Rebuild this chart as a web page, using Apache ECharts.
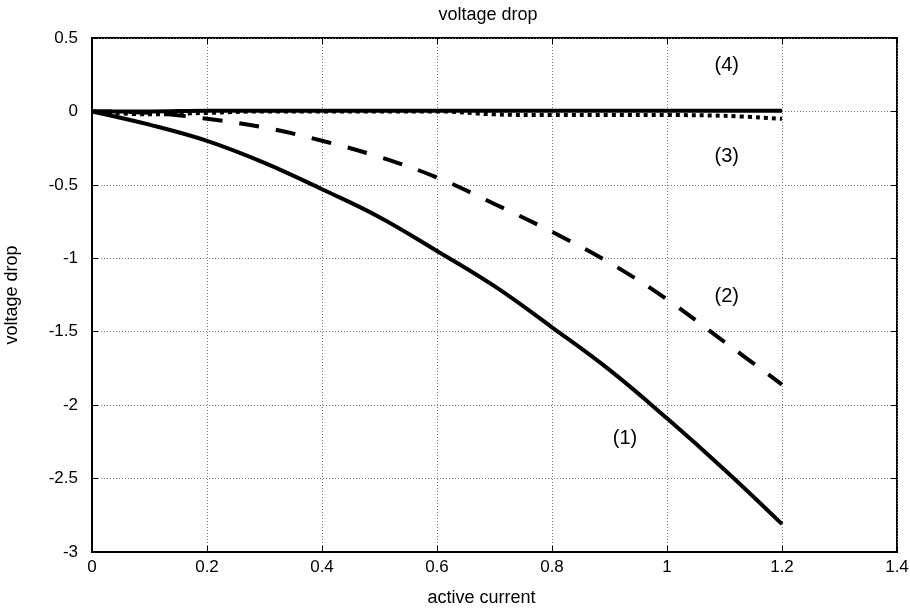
<!DOCTYPE html>
<html>
<head>
<meta charset="utf-8">
<script src="https://cdn.jsdelivr.net/npm/echarts@6/dist/echarts.min.js"></script>
<style>
  html, body { margin: 0; padding: 0; background: #fff; }
  #chart { width: 910px; height: 608px; }
</style>
</head>
<body>
<div id="chart"></div>
<script>
// active current samples
const current = [0, 0.1, 0.2, 0.3, 0.4, 0.5, 0.6, 0.7, 0.8, 0.9, 1.0, 1.1, 1.2]

// voltage drop curves
const drop1 = [0, -0.09, -0.2, -0.35, -0.53, -0.72, -0.95, -1.19, -1.47, -1.76, -2.09, -2.44, -2.81]
const drop2 = [0, -0.01, -0.05, -0.11, -0.2, -0.31, -0.45, -0.63, -0.82, -1.03, -1.28, -1.57, -1.86]
const drop3 = [0, -0.02, -0.01, 0, 0, 0, 0, -0.02, -0.025, -0.025, -0.025, -0.03, -0.05]
const drop4 = [0, 0, 0.005, 0.005, 0.005, 0.005, 0.005, 0.005, 0.005, 0.005, 0.005, 0.005, 0.005]

// curve labels and where they sit
const labelText = ['(1)', '(2)', '(3)', '(4)']
const labelX = [0.927, 1.104, 1.104, 1.104]
const labelY = [-2.23, -1.26, -0.31, 0.31]

const black = '#000'
const font = 'Liberation Sans, Arial, sans-serif'

const chart = echarts.init(document.getElementById('chart'))

function pairs(ys) {
  return current.map((x, i) => [x, ys[i]])
}

function curve(name, ys, type) {
  return {
    name,
    type: 'line',
    data: pairs(ys),
    showSymbol: false,
    symbol: 'none',
    smooth: 0.4,
    animation: false,
    lineStyle: {
      color: black,
      width: 4,
      type,
      cap: 'butt'
    }
  }
}

const tick = { inside: true, length: 6, lineStyle: { color: black, width: 1 } }
const grid = { show: true, lineStyle: { color: '#777', type: [1, 2], width: 1 } }

const option = {
  backgroundColor: '#fff',
  title: {
    text: 'voltage drop',
    left: 483,
    textAlign: 'center',
    top: 1,
    textStyle: { color: black, fontSize: 18, fontWeight: 'normal', fontFamily: font }
  },
  grid: {
    left: 92,
    right: 13,
    top: 38,
    bottom: 56,
    outerBoundsMode: 'none',
    containLabel: false,
    show: true,
    borderColor: black,
    borderWidth: 2
  },
  xAxis: [{
    type: 'value',
    min: 0,
    max: 1.4,
    interval: 0.2,
    name: 'active current',
    nameLocation: 'middle',
    nameGap: 37,
    nameTextStyle: { color: black, fontSize: 18, fontFamily: font, padding: [0, 26, 0, 0] },
    axisLine: { onZero: false, lineStyle: { color: black, width: 2 } },
    axisTick: tick,
    axisLabel: { color: black, fontSize: 17, fontFamily: font, margin: 7 },
    splitLine: grid
  }, {
    type: 'value',
    position: 'top',
    min: 0,
    max: 1.4,
    interval: 0.2,
    axisLine: { show: false, onZero: false },
    axisTick: tick,
    axisLabel: { show: false },
    splitLine: { show: false }
  }],
  yAxis: [{
    type: 'value',
    min: -3,
    max: 0.5,
    interval: 0.5,
    name: 'voltage drop',
    nameLocation: 'middle',
    nameGap: 71,
    nameTextStyle: { color: black, fontSize: 18, fontFamily: font },
    axisLine: { onZero: false, lineStyle: { color: black, width: 2 } },
    axisTick: tick,
    axisLabel: { color: black, fontSize: 17, fontFamily: font, margin: 14 },
    splitLine: grid
  }, {
    type: 'value',
    position: 'right',
    min: -3,
    max: 0.5,
    interval: 0.5,
    axisLine: { show: false, onZero: false },
    axisTick: tick,
    axisLabel: { show: false },
    splitLine: { show: false }
  }],
  series: [
    curve('(1)', drop1, 'solid'),
    curve('(2)', drop2, [20, 17]),
    curve('(3)', drop3, [4, 4]),
    curve('(4)', drop4, 'solid'),
    {
      type: 'scatter',
      symbolSize: 0,
      animation: false,
      silent: true,
      itemStyle: { opacity: 1, color: black },
      data: labelText.map((t, i) => ({ value: [labelX[i], labelY[i]], name: t })),
      label: {
        show: true,
        position: 'inside',
        formatter: p => p.name,
        color: black,
        opacity: 1,
        fontSize: 20,
        fontFamily: font
      }
    }
  ]
}

chart.setOption(option)
</script>
</body>
</html>
